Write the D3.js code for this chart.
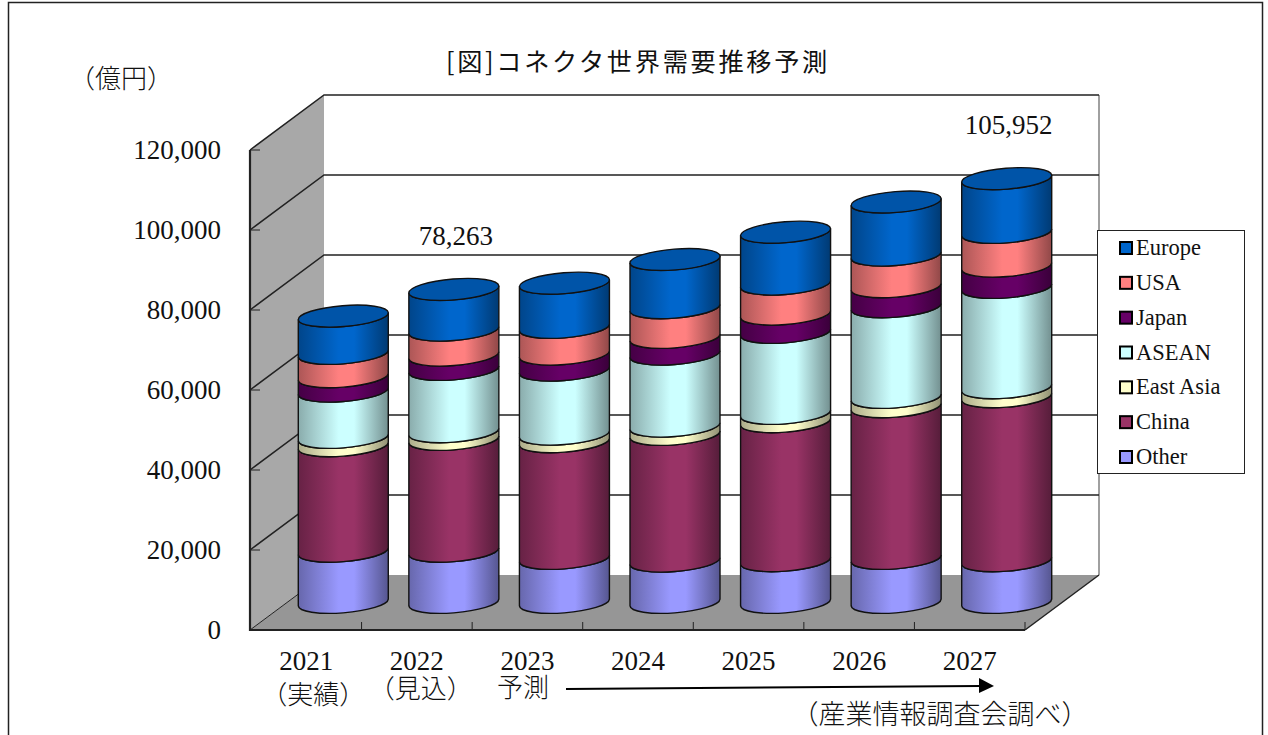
<!DOCTYPE html>
<html>
<head>
<meta charset="utf-8">
<script src="https://cdn.jsdelivr.net/npm/d3@7"></script>
<style>
  body { margin: 0; background: #fff; }
  text { font-family: "Liberation Serif", "Noto Sans CJK JP", serif; fill: #111; }
  .jp { font-family: "Noto Sans CJK JP", sans-serif; font-weight: 300; }
</style>
</head>
<body>
<div id="chart-area"></div>
<script>
const years = ["2021", "2022", "2023", "2024", "2025", "2026", "2027"]
const yTicks = [0, 20000, 40000, 60000, 80000, 100000, 120000]

// bottom to top of each stack
const seriesNames = ["Other", "China", "East Asia", "ASEAN", "Japan", "USA", "Europe"]
const other    = [12800, 12800, 11000, 10325, 10425, 11000, 10425]
const china    = [26375, 27950, 29175, 31675, 34750, 37925, 41000]
const eastAsia = [2075, 1925, 1900, 2075, 2075, 2325, 2250]
const asean    = [11575, 15575, 16000, 18000, 20250, 22675, 25075]
const japan    = [3600, 3575, 4000, 4175, 4575, 5000, 5325]
const usa      = [5825, 6250, 6675, 7425, 7500, 7900, 8425]
const europe   = [9350, 10188, 11075, 12075, 13000, 13300, 13452]
const seriesColors = ["#9999FF", "#993366", "#FFFFCC", "#CCFFFF", "#660066", "#FF8080", "#0066CC"]

const totalLabels = [{ year: "2022", value: 78263 }, { year: "2027", value: 105952 }]

const WIDTH = 1268
const HEIGHT = 735
const DEPTH = { X: 74, Y: 55 }
const BAR_R = 45
const TILT = 3.4   // edge of the cylinder sits this far off the ellipse centre
const RX = 45.14
const RY = 10.45
const ROT = -4.56

const svg = d3.select("#chart-area").append("svg")
  .attr("width", WIDTH)
  .attr("height", HEIGHT)
  .style("display", "block")

const x = d3.scaleBand().domain(years).range([251, 1025])
const y = d3.scaleLinear().domain([0, 120000]).range([630, 150])

const values = [other, china, eastAsia, asean, japan, usa, europe]
const rows = years.map((yr, i) => {
  const row = { year: yr }
  seriesNames.forEach((s, k) => { row[s] = values[k][i] })
  return row
})
const stacked = d3.stack().keys(seriesNames)(rows)

// outer frame
svg.append("rect")
  .attr("x", 8.5).attr("y", 2.5)
  .attr("width", 1254).attr("height", 760)
  .attr("fill", "#fff").attr("stroke", "#222").attr("stroke-width", 1.5)

// Title
svg.append("text")
  .attr("class", "jp")
  .attr("x", 446)
  .attr("y", 71)
  .style("font-size", "25.2px")
  .style("font-weight", "400")
  .style("letter-spacing", "2.7px")
  .text("[図]コネクタ世界需要推移予測")

svg.append("text")
  .attr("class", "jp")
  .attr("x", 69)
  .attr("y", 88)
  .style("font-size", "26px")
  .text("（億円）")

// walls and floor
const x0 = x.range()[0] - 1, x1 = x.range()[1]
const pts = p => p.map(d => d.join(",")).join(" ")

svg.append("polygon")
  .attr("points", pts([[x0 + DEPTH.X, y(120000) - DEPTH.Y], [x1 + DEPTH.X, y(120000) - DEPTH.Y], [x1 + DEPTH.X, y(0) - DEPTH.Y], [x0 + DEPTH.X, y(0) - DEPTH.Y]]))
  .attr("fill", "#fff")

svg.append("polygon")
  .attr("points", pts([[x0, y(0)], [x0, y(120000)], [x0 + DEPTH.X, y(120000) - DEPTH.Y], [x0 + DEPTH.X, y(0) - DEPTH.Y]]))
  .attr("fill", "#A8A8A8")

svg.append("polygon")
  .attr("points", pts([[x0, y(0)], [x1, y(0)], [x1 + DEPTH.X, y(0) - DEPTH.Y], [x0 + DEPTH.X, y(0) - DEPTH.Y]]))
  .attr("fill", "#969696")

// wall edges
svg.append("line")
  .attr("x1", x1 + DEPTH.X).attr("x2", x1 + DEPTH.X)
  .attr("y1", y(120000) - DEPTH.Y).attr("y2", y(0) - DEPTH.Y)
  .attr("stroke", "#A0A0A0").attr("stroke-width", 2)

// gridlines
yTicks.filter(d => d > 0).forEach(t => {
  svg.append("polyline")
    .attr("points", pts([[x0, y(t)], [x0 + DEPTH.X, y(t) - DEPTH.Y], [x1 + DEPTH.X, y(t) - DEPTH.Y]]))
    .attr("fill", "none")
    .attr("stroke", "#222")
    .attr("stroke-width", 1.5)
})
svg.append("line")
  .attr("x1", x0).attr("y1", y(0))
  .attr("x2", x0 + DEPTH.X).attr("y2", y(0) - DEPTH.Y)
  .attr("stroke", "#222").attr("stroke-width", 1)
svg.append("line")
  .attr("x1", x1).attr("y1", y(0))
  .attr("x2", x1 + DEPTH.X).attr("y2", y(0) - DEPTH.Y)
  .attr("stroke", "#222").attr("stroke-width", 1.5)

// tick marks
yTicks.forEach(t => {
  svg.append("line")
    .attr("x1", x0).attr("x2", x0 + 10)
    .attr("y1", y(t)).attr("y2", y(t))
    .attr("stroke", "#222").attr("stroke-width", 1)
})
years.forEach(yr => {
  const tx = x(yr) + x.step()
  svg.append("line")
    .attr("x1", tx).attr("x2", tx)
    .attr("y1", y(0)).attr("y2", y(0) - 8)
    .attr("stroke", "#222").attr("stroke-width", 1)
})

// gradients, one per series
const defs = svg.append("defs")
seriesNames.forEach((s, k) => {
  const c = d3.color(seriesColors[k])
  const grad = defs.append("linearGradient").attr("id", "grad" + k)
  grad.append("stop").attr("offset", "0%").attr("stop-color", c.darker(1.1))
  grad.append("stop").attr("offset", "45%").attr("stop-color", c)
  grad.append("stop").attr("offset", "62%").attr("stop-color", c)
  grad.append("stop").attr("offset", "100%").attr("stop-color", c.darker(1.6))
})

const cx = yr => x(yr) + x.bandwidth() / 2 + DEPTH.X / 2
const cy = v => y(v) - DEPTH.Y / 2

const segPath = (yr, lo, hi) => {
  const c = cx(yr), a = cy(lo), b = cy(hi)
  return `M${c - BAR_R},${b + TILT} L${c - BAR_R},${a + TILT}` +
    ` A${RX},${RY} ${ROT} 0 0 ${c + BAR_R},${a - TILT}` +
    ` L${c + BAR_R},${b - TILT}` +
    ` A${RX},${RY} ${ROT} 0 1 ${c - BAR_R},${b + TILT} Z`
}

const bars = svg.append("g")
stacked.forEach((layer, k) => {
  bars.selectAll(null)
    .data(layer)
    .enter().append("path")
    .attr("d", d => segPath(d.data.year, d[0], d[1]))
    .attr("fill", `url(#grad${k})`)
    .attr("stroke", "#111")
    .attr("stroke-width", 1.4)
})

// cylinder tops
const topLayer = stacked[stacked.length - 1]
bars.selectAll(null)
  .data(topLayer)
  .enter().append("ellipse")
  .attr("transform", d => `translate(${cx(d.data.year)},${cy(d[1])}) rotate(${ROT})`)
  .attr("rx", RX)
  .attr("ry", RY)
  .attr("fill", d3.color(seriesColors[6]).darker(0.55))
  .attr("stroke", "#111")
  .attr("stroke-width", 1.4)

// front axis lines
svg.append("polyline")
  .attr("points", pts([[x0, y(120000)], [x0, y(0)], [x1, y(0)]]))
  .attr("fill", "none")
  .attr("stroke", "#222")
  .attr("stroke-width", 2.2)

// tick labels
const yAxis = svg.append("g")
  .attr("transform", `translate(${x0},0)`)
  .call(d3.axisLeft(y).tickValues(yTicks).tickFormat(d3.format(",")).tickSize(0).tickPadding(29))
const xAxis = svg.append("g")
  .attr("transform", `translate(0,${y(0)})`)
  .call(d3.axisBottom(x).tickSize(0).tickPadding(21))
for (const ax of [yAxis, xAxis]) {
  ax.select(".domain").remove()
  ax.selectAll("text").style("font-size", "27px").style("font-family", '"Liberation Serif"').attr("fill", "#111")
}

// notes under the axis
const notes = [
  { text: "（実績）", x: x("2021") + x.bandwidth() / 2 + 7, y: 704, size: 26 },
  { text: "（見込）", x: x("2022") + x.bandwidth() / 2 + 4, y: 698, size: 26 },
  { text: "予測", x: 523, y: 697, size: 26 },
  { text: "（産業情報調査会調べ）", x: 940, y: 724, size: 27 }
]
svg.selectAll(null)
  .data(notes)
  .enter().append("text")
  .attr("class", "jp")
  .attr("text-anchor", "middle")
  .attr("x", d => d.x)
  .attr("y", d => d.y)
  .style("font-size", d => d.size + "px")
  .text(d => d.text)

// forecast arrow
svg.append("line")
  .attr("x1", 566).attr("y1", 689)
  .attr("x2", 980).attr("y2", 686)
  .attr("stroke", "#000").attr("stroke-width", 2)
svg.append("polygon")
  .attr("points", "979,678 994,686 979,693")
  .attr("fill", "#000")

// total labels
svg.selectAll(null)
  .data(totalLabels)
  .enter().append("text")
  .attr("text-anchor", "middle")
  .attr("x", d => cx(d.year) + 2)
  .attr("y", d => y(d.value) - 72)
  .style("font-size", "27px")
  .text(d => d3.format(",")(d.value))

// legend
const legend = svg.append("g")
legend.append("rect")
  .attr("x", 1097.5).attr("y", 230.5)
  .attr("width", 147).attr("height", 243)
  .attr("fill", "#fff").attr("stroke", "#222").attr("stroke-width", 1)

const legendY = d3.scalePoint()
  .domain(seriesNames.slice().reverse())
  .range([248, 457])

seriesNames.forEach((s, k) => {
  legend.append("rect")
    .attr("x", 1120).attr("y", legendY(s) - 6)
    .attr("width", 12).attr("height", 12)
    .attr("fill", seriesColors[k])
    .attr("stroke", "#000").attr("stroke-width", 2)
  legend.append("text")
    .attr("x", 1136).attr("y", legendY(s) + 7)
    .style("font-size", "22.5px")
    .text(s)
})
</script>
</body>
</html>
